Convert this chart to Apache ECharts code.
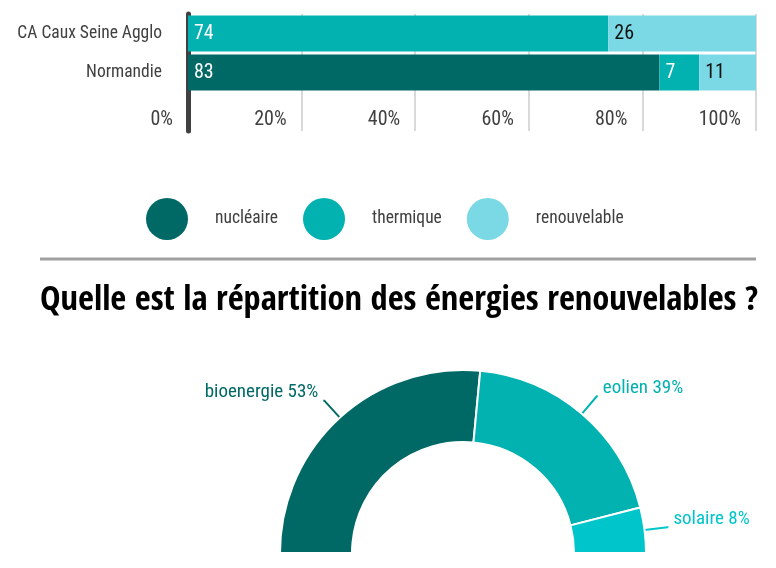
<!DOCTYPE html>
<html>
<head>
<meta charset="utf-8">
<title>Mix énergétique</title>
<script src="https://cdn.jsdelivr.net/npm/echarts@6/dist/echarts.min.js"></script>
<style>
  html, body { margin: 0; padding: 0; background: #ffffff; }
  #chart { width: 776px; height: 568px; }
</style>
</head>
<body>
<div id="chart"></div>
<script>
// Production by territory (stacked horizontal bars)
const territories = ['CA Caux Seine Agglo', 'Normandie', ''];
const nucleaire = [0, 83, null];
const thermique = [74, 7, null];
const renouvelable = [26, 11, null];
const sourceNames = ['nucléaire', 'thermique', 'renouvelable'];
const xTicks = [0, 20, 40, 60, 80, 100];

// Breakdown of renewable sources (half donut)
const renewNames = ['bioenergie', 'eolien', 'solaire'];
const renewValues = [53, 39, 8];

const FONT = "'Roboto Condensed', 'DejaVu Sans Condensed', sans-serif";
const TITLE_FONT = "'Open Sans Condensed', 'Roboto Condensed', sans-serif";
const GREY = '#404040';
const C_NUC = '#006966';
const C_THE = '#02B2B0';
const C_REN = '#7BD8E5';
const C_SOL = '#00C5CA';
const renewColors = [C_NUC, C_THE, C_SOL];

const chart = echarts.init(document.getElementById('chart'), null, { renderer: 'canvas' });

function barLabel(color) {
  return {
    show: true,
    position: 'insideLeft',
    distance: 6,
    color: color,
    fontFamily: FONT,
    fontSize: 20,
    formatter: p => (p.value ? String(p.value) : '')
  };
}

const option = {
  backgroundColor: '#ffffff',
  animation: false,
  textStyle: { fontFamily: FONT },
  title: {
    text: 'Quelle est la répartition des énergies renouvelables ?',
    left: 40,
    top: 283,
    padding: 0,
    textStyle: { fontFamily: TITLE_FONT, fontSize: 34.5, fontWeight: 'bold', color: '#000000' }
  },
  legend: {
    data: sourceNames,
    left: 146,
    top: 198,
    padding: 0,
    icon: 'circle',
    itemWidth: 42,
    itemHeight: 42,
    itemGap: 25,
    selectedMode: false,
    textStyle: { fontFamily: FONT, fontSize: 17.5, color: GREY, padding: [0, 0, 0, 22] }
  },
  grid: { left: 188, right: 20, top: 14, bottom: 568 - 131, containLabel: false, outerBoundsMode: 'none' },
  xAxis: {
    type: 'value',
    min: xTicks[0],
    max: xTicks[xTicks.length - 1],
    interval: xTicks[1] - xTicks[0],
    axisLine: { show: false },
    axisTick: { show: false },
    splitLine: { show: true, lineStyle: { color: '#d9d9d9', width: 2 } },
    axisLabel: {
      inside: true,
      margin: 1,
      align: 'right',
      padding: [0, 15, 0, 0],
      fontFamily: FONT,
      fontSize: 20,
      color: GREY,
      formatter: '{value}%'
    }
  },
  yAxis: {
    type: 'category',
    inverse: true,
    data: territories,
    axisLine: { show: true, lineStyle: { color: GREY, width: 5 } },
    axisTick: { show: false },
    axisLabel: { margin: 26, fontFamily: FONT, fontSize: 17.5, color: GREY }
  },
  series: [
    {
      name: sourceNames[0], type: 'bar', stack: 'mix', barWidth: 36,
      itemStyle: { color: C_NUC }, label: barLabel('#ffffff'), data: nucleaire
    },
    {
      name: sourceNames[1], type: 'bar', stack: 'mix', barWidth: 36,
      itemStyle: { color: C_THE }, label: barLabel('#ffffff'), data: thermique
    },
    {
      name: sourceNames[2], type: 'bar', stack: 'mix', barWidth: 36,
      itemStyle: { color: C_REN }, label: barLabel('#111111'), data: renouvelable
    },
    {
      name: 'renouvelables',
      type: 'pie',
      center: [463, 553],
      radius: [111, 183],
      startAngle: 180,
      endAngle: 0,
      clockwise: true,
      avoidLabelOverlap: false,
      itemStyle: { borderColor: '#ffffff', borderWidth: 2 },
      label: {
        show: true,
        position: 'outside',
        // empty second line lifts the text slightly above the leader line end
        formatter: '{b} {c}%\n',
        lineHeight: 16,
        fontFamily: FONT,
        fontSize: 19
      },
      labelLine: { show: true, length: 23, length2: 1, lineStyle: { width: 2 } },
      emphasis: { disabled: true },
      data: renewNames.map((n, i) => ({
        name: n,
        value: renewValues[i],
        itemStyle: { color: renewColors[i] },
        label: { color: renewColors[i] },
        labelLine: { lineStyle: { color: renewColors[i] } }
      }))
    }
  ],
  graphic: [
    {
      type: 'line',
      shape: { x1: 40, y1: 259, x2: 756, y2: 259 },
      style: { stroke: '#a0a0a0', lineWidth: 3 }
    }
  ]
};

chart.setOption(option);
</script>
</body>
</html>
